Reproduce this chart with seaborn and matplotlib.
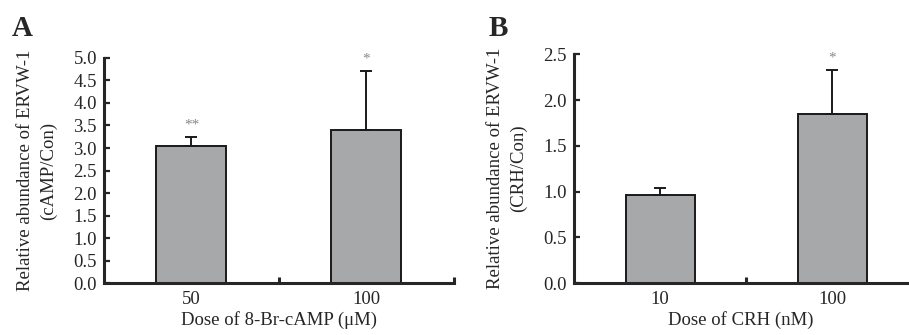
import numpy as np
import pandas as pd
import seaborn as sns
import matplotlib.pyplot as plt
from matplotlib.ticker import FixedLocator

# panel A: 8-Br-cAMP doses
camp_doses = ['50', '100']
camp_means = [3.04, 3.39]
camp_err = [0.20, 1.32]
camp_marks = ['**', '*']

# panel B: CRH doses
crh_doses = ['10', '100']
crh_means = [0.96, 1.85]
crh_err = [0.08, 0.48]
crh_marks = ['', '*']

sns.set_style('ticks')
plt.rcParams['font.family'] = ['Liberation Serif', 'DejaVu Serif']

FS = 13.5

fig = plt.figure(figsize=(9.09, 3.35), dpi=100)
axA = fig.add_axes([0.1144, 0.155, 0.385, 0.672])
axB = fig.add_axes([0.6315, 0.155, 0.3675, 0.683])


def draw_panel(ax, doses, means, errs, marks, ymax, ystep, star_off, xlabel, ylabel, xmax):
    df = pd.DataFrame({'dose': doses, 'value': means})
    sns.barplot(data=df, x='dose', y='value', order=doses, color='#a7a8aa',
                saturation=1, width=0.4, edgecolor='#1a1a1a', linewidth=1.4,
                errorbar=None, ax=ax)
    ax.errorbar(np.arange(len(doses)), means, yerr=[np.zeros(len(errs)), errs],
                fmt='none', ecolor='#1a1a1a', elinewidth=1.4, capsize=4, capthick=1.4)
    for i, (m, e, s) in enumerate(zip(means, errs, marks)):
        if s:
            ax.text(i, m + e + star_off, s, ha='center', va='bottom',
                    color='#888888', fontsize=11)
    ax.set_ylim(0, ymax)
    ax.set_xlim(-0.5, xmax)
    ticks = np.arange(0, ymax + 1e-6, ystep)
    ax.set_yticks(ticks)
    ax.set_yticklabels([f'{v:.1f}' for v in ticks])
    ax.xaxis.set_minor_locator(FixedLocator([0.5, 1.5]))
    ax.tick_params(axis='x', which='major', length=0, pad=6, labelsize=FS)
    ax.tick_params(axis='x', which='minor', direction='in', length=4, width=2.2)
    ax.tick_params(axis='y', direction='in', length=4, width=1.6, pad=5, labelsize=FS)
    for side in ['top', 'right']:
        ax.spines[side].set_visible(False)
    ax.spines['left'].set_linewidth(2.2)
    ax.spines['bottom'].set_linewidth(2.2)
    ax.set_xlabel(xlabel, fontsize=FS, labelpad=2)
    ax.set_ylabel(ylabel, fontsize=FS, linespacing=1.45, labelpad=12)


draw_panel(axA, camp_doses, camp_means, camp_err, camp_marks, 5.0, 0.5, 0.12,
           'Dose of 8-Br-cAMP (μM)',
           'Relative abundance of ERVW-1\n(cAMP/Con)', 1.5)
draw_panel(axB, crh_doses, crh_means, crh_err, crh_marks, 2.5, 0.5, 0.06,
           'Dose of CRH (nM)',
           'Relative abundance of ERVW-1\n(CRH/Con)', 1.44)

fig.text(0.013, 0.893, 'A', fontsize=21, fontweight='bold')
fig.text(0.538, 0.893, 'B', fontsize=21, fontweight='bold')

fig.savefig('out.png', dpi=100)
